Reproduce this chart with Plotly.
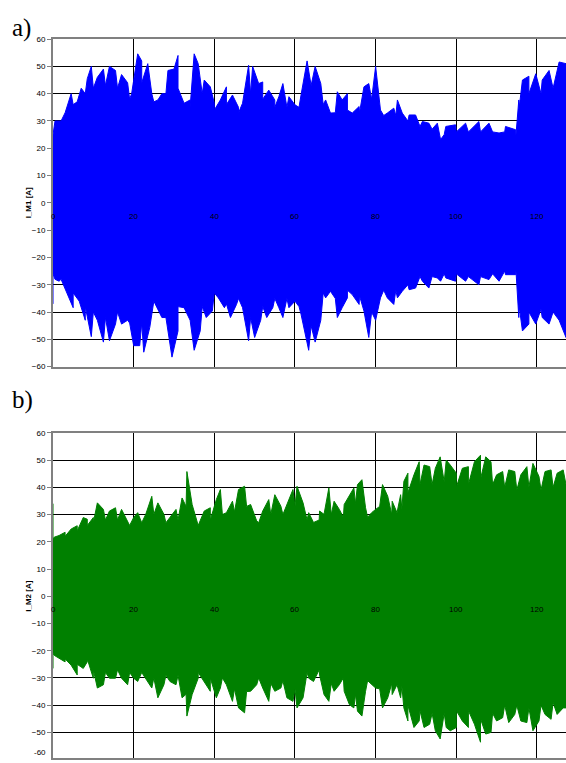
import plotly.graph_objects as go

# ---- Motor current M1 ----
# dense band of the oscillation (upper / lower edge)
m1_band_t = [0, 2, 5, 8, 10, 13, 16, 19, 22, 25, 28, 31, 34, 37, 40, 43, 46, 49, 52, 55, 58, 61,
             64, 67, 70, 73, 76, 79, 82, 85, 88, 91, 94, 97, 100, 103, 106, 109, 112, 114.8, 115.6,
             118, 121, 124, 127.2]
m1_band_up = [25, 30, 36, 40, 42, 43, 42, 38, 44, 37, 40, 42, 35, 40, 34, 36, 33, 40, 38, 35, 35, 35,
              43, 36, 33, 34, 33, 38, 32, 32, 30, 28, 27, 25, 26, 26, 26, 26, 26, 25, 35,
              40, 40, 42, 44]
m1_band_lo = [-26, -28, -33, -38, -40, -42, -40, -44, -44, -36, -42, -38, -43, -38, -33, -37, -35,
              -42, -38, -35, -35, -38, -45, -33, -35, -32, -34, -40, -32, -32, -30, -27, -27, -26,
              -26, -27, -27, -26, -25, -25, -38, -40, -39, -40, -42]
# individual peaks reaching out of the band
m1_up_t = [0, 0.5, 1, 3, 4.5, 6, 7, 8.5, 9.5, 11, 12.5, 14, 15.5, 17, 18.5, 19.5, 21, 22, 23.5,
           24.5, 26, 27, 28.5, 30, 31, 32.5, 34, 35, 36, 37.5, 39, 40, 41.5, 43, 44.5, 46, 47,
           48.5, 49.5, 51, 52, 53.5, 55, 56, 57, 58.5, 60, 61.5, 63, 65, 66.4, 67.6, 68.8, 70.5,
           71.7, 73, 74.2, 75.9, 77.1, 78.3, 80, 81.2, 82.9, 84.5, 85.4, 86.6, 88.3, 89.9, 91.6,
           93.2, 95.3, 96.1, 97.4, 99.8, 102.3, 105.6, 108.1, 110.6, 112.2, 114.7, 115.5, 116.4,
           118, 119.7, 121.3, 123, 125.5, 127.2]
m1_up = [24, 30, 30, 33, 40, 37, 42, 45.5, 50, 46, 49, 50, 48.5, 47, 44, 40, 54.6, 52, 51,
         40, 37.7, 40, 48.5, 49, 54, 36.5, 37.7, 54.6, 51, 45, 42.5, 36.5, 37.7, 42.5, 39.5, 35, 36.5,
         50.4, 50, 43.7, 44.3, 41.3, 37.7, 38.9, 43.7, 38.9, 35.9, 39.5, 52, 50, 43.7, 37.7, 32.9, 40.7,
         37.7, 40, 32.9, 35.3, 42.5, 43.7, 50, 34, 32.9, 34.7, 37.7, 32.9, 32.2, 32.2, 29.8,
         29.2, 29.2, 23.2, 28, 28.6, 29.2, 29.8, 29.2, 25.6, 28, 26.8, 37.7, 45,
         46.4, 47.3, 45, 48.5, 51.6, 51]
m1_lo_t = [0, 0.5, 1.5, 3, 5, 6.5, 8, 9.5, 11, 12.5, 14, 15.5, 17, 18.5, 20, 21.5, 22.5, 24,
           25.5, 27, 28.5, 29.5, 31, 32.5, 34, 35, 36.5, 38, 39.5, 41, 42.5, 44, 45.5, 47, 48.5,
           50, 51.5, 53, 54.5, 56, 57, 58.5, 60, 61.5, 63.4, 65, 66.4, 67.6, 68.8, 70.5, 71.7, 73,
           74.2, 75.9, 77.1, 78.3, 80, 81.2, 82.9, 84.5, 85.4, 86.6, 88.3, 89.9, 91.6, 93.2, 95.3,
           96.1, 97.4, 99.8, 102.3, 105.6, 108.1, 110.6, 112.2, 114.7, 115.5, 116.4, 118, 119.7,
           121.3, 123, 125.5, 127.2]
m1_lo = [-37, -28, -28.7, -31, -38.4, -36, -43, -49, -43, -51, -50.5, -44.4, -44.4, -43, -52.3,
         -52.3, -54.7, -45.6, -37.2, -42, -46.9, -56.5, -46.9, -38.4, -43, -54, -46.9, -42, -39.6,
         -34.8, -38.4, -42, -37.2, -38.4, -50.5, -49.3, -43, -42, -38.4, -38.4, -42, -38.4, -36,
         -40.8, -54, -51, -43, -34.8, -32.4, -42, -38.4, -34.8, -33.6, -37.2, -39.6, -49.3, -43,
         -34.8, -34.8, -37.2, -34.8, -32.4, -31.8, -31.2, -28.7, -31.2, -27.5, -28.7, -27.5,
         -28.7, -28.7, -30, -28.1, -28.7, -26.3, -26.3, -42, -46.9, -44.4, -44.4, -42, -44.4,
         -43, -49.3]

# ---- Motor current M2 ----
m2_band_t = [0, 3, 6, 8.5, 10, 13, 16, 19, 22, 25, 28, 31, 33, 36, 39, 42, 45, 48, 51, 54, 57,
             60, 63, 66, 69, 72, 75, 78, 81, 84, 86.5, 88, 91, 94, 97, 100, 103, 106, 109, 112,
             115, 118, 121, 124, 127.2]
m2_band_up = [21, 22, 24, 26, 27, 28, 28, 26, 27, 30, 27, 28, 33, 26, 28, 30, 31, 33, 27, 30, 30,
              33, 28, 28, 30, 29, 34, 29, 33, 30, 32, 38, 41, 41, 42, 40, 41, 43, 41, 40,
              39, 40, 39, 40, 38]
m2_band_lo = [-21, -23, -25, -23, -27, -28, -27, -28, -28, -30, -29, -29, -36, -28, -30, -30, -34,
              -35, -30, -32, -31, -34, -28, -27, -32, -30, -36, -31, -34, -32, -33, -40, -42, -43,
              -43, -42, -42, -45, -43, -40, -40, -41, -40, -39, -38]
m2_t = [0, 0.3, 1.5, 3, 4.5, 6, 7.5, 8.5, 10, 11, 12.5, 14, 15.5, 17, 18.5, 20, 21, 23, 24.5,
        26, 27.5, 29, 30.5, 32, 33.2, 34.5, 36, 37.5, 39, 40.5, 41.5, 43, 44.5, 46, 47.5, 49,
        50.5, 52, 53.5, 55, 56.5, 58, 59.5, 60.5, 62, 63.4, 64.6, 66.1, 67.2, 68.4, 69.7, 71,
        72.2, 73.5, 74.6, 75.5, 76.6, 77.5, 79, 80, 81.7, 83, 84.1, 85.3, 86.2, 87, 88, 89.5,
        90.8, 92, 93.4, 94.8, 96, 97.5, 98.5, 100, 101.5, 103, 104.5, 106, 107.3, 108.6, 110,
        111.5, 113, 114.5, 116, 117.5, 119, 120.5, 122, 123.5, 125, 126.5, 127.2]
m2_up = [34, 21.7, 22.3, 23.5, 24.7, 25.9, 28.9, 28.3, 28.9, 34.3, 31.9, 31.3, 32.5, 31.9, 27.7,
         28.9, 30.7, 30.1, 36.7, 34.3, 30.1, 28.9, 31.9, 36.1, 45.8, 33.7, 26.5, 31.3, 32.5, 35.5,
         39.2, 30.7, 34.9, 39.2, 40.4, 33.7, 27.7, 31.3, 35.5, 37.3, 33.1, 33.7, 39.2, 40.4, 34.3,
         30.7, 27.1, 31.3, 30.1, 39.8, 34.9, 31.9, 33.7, 37.3, 39.8, 41, 42.8, 32.5, 30.7, 31.9,
         41, 36.7, 34.9, 30.7, 37.3, 42.2, 45.2, 44.6, 49.4, 48.2, 47.6, 47, 51.2, 50, 48.2, 45.2,
         47, 47.6, 49.4, 51.8, 51.2, 49.4, 44.6, 45.8, 46.4, 45.8, 44.6, 47.6, 48.8, 44, 45.8,
         46.4, 45.2, 46.4, 41]
m2_lo = [-26.5, -21.7, -22.9, -24.1, -25.3, -28.9, -26.5, -24.1, -30.1, -33.7, -32.5, -30.1,
         -30.1, -30.1, -32.5, -30.1, -31.3, -30.1, -33.7, -37.3, -32.5, -31.3, -32.5, -37.3, -44,
         -36.1, -30.1, -31.3, -34.9, -37.3, -33.7, -32.5, -38.6, -41, -42.8, -34.9, -32.5, -33.7,
         -38.6, -34.9, -33.7, -37.3, -38.6, -41, -37.3, -30.1, -31.3, -28.9, -36.1, -38.6, -34.9,
         -32.5, -34.9, -39.8, -41, -42.2, -44, -34.9, -32.5, -33.7, -41, -37.3, -36.1, -32.5,
         -37.3, -41, -45.8, -48.2, -45.8, -48.2, -47, -49.4, -52.4, -48.2, -49.4, -48.2, -45.8,
         -48.2, -47, -53.6, -50.6, -50, -45.8, -44.6, -46.4, -43.4, -45.8, -46.4, -49.4, -45.8,
         -43.4, -45.2, -43.4, -41, -41]

x_ticks = [0, 20, 40, 60, 80, 100, 120]
y_ticks = list(range(-60, 61, 10))

FONT = "Liberation Sans"
W, H = 566, 763
L = 53                      # left margin in pixels
PW = W - L                  # plotting width in pixels


def edge(peak_t, peak_v, band_t, band_v):
    """Outline of one side: peaks and band points merged in time order."""
    pts = sorted(list(zip(peak_t, peak_v)) + list(zip(band_t, band_v)), key=lambda p: p[0])
    return [p[0] for p in pts], [p[1] for p in pts]


fig = go.Figure()


def add_signal(band_t, band_up, band_lo, up_t, up, lo_t, lo, color, xa, ya):
    ux, uy = edge(up_t, up, band_t, band_up)
    lx, ly = edge(lo_t, lo, band_t, band_lo)
    fig.add_trace(go.Scatter(
        x=ux + lx[::-1], y=uy + ly[::-1],
        fill="toself", fillcolor=color, mode="lines",
        line=dict(color=color, width=1), xaxis=xa, yaxis=ya, hoverinfo="skip",
    ))


add_signal(m1_band_t, m1_band_up, m1_band_lo, m1_up_t, m1_up, m1_lo_t, m1_lo,
           "#0000ff", "x", "y")
add_signal(m2_band_t, m2_band_up, m2_band_lo, m2_t, m2_up, m2_t, m2_lo,
           "#008000", "x2", "y2")

xcommon = dict(
    range=[0, 127.2], tickvals=x_ticks, showticklabels=False, ticks="",
    showgrid=True, gridcolor="#000000", gridwidth=1, zeroline=False,
    showline=True, linecolor="#808080", linewidth=2, mirror=True,
)
ycommon = dict(
    tickvals=y_ticks, ticks="outside", ticklen=4, tickcolor="#808080", tickwidth=1,
    tickfont=dict(family=FONT, size=8, color="#000000"),
    showgrid=True, gridcolor="#000000", gridwidth=1, zeroline=False,
    showline=True, linecolor="#808080", linewidth=2,
)

top_dom = [(H - 367) / H, (H - 35.5) / H]
bot_dom = [0, (H - 434) / H]

fig.update_layout(
    width=W, height=H,
    margin=dict(l=L, r=0, t=0, b=0),
    paper_bgcolor="white", plot_bgcolor="white",
    showlegend=False,
    xaxis=dict(**xcommon, anchor="y"),
    yaxis=dict(**ycommon, range=[-60, 60], domain=top_dom, anchor="x"),
    xaxis2=dict(**xcommon, anchor="y2"),
    yaxis2=dict(**ycommon, range=[-59.4, 60], domain=bot_dom, anchor="x2"),
)

annotations = []

# x tick labels sit just below the zero line, inside each plot
for xr, yr in (("x", "y"), ("x2", "y2")):
    for t in x_ticks:
        annotations.append(dict(
            x=t, y=0, xref=xr, yref=yr, text=str(t), showarrow=False,
            xanchor="center", yanchor="top", yshift=-7,
            font=dict(family=FONT, size=8, color="#000000"),
        ))

# y axis titles, centred on the zero line of each plot
for txt, yr in (("<b>I_M1 [A]</b>", "y"), ("<b>I_M2 [A]</b>", "y2")):
    annotations.append(dict(
        x=(28.5 - L) / PW, y=0, xref="paper", yref=yr, text=txt, showarrow=False,
        textangle=-90, xanchor="center", yanchor="middle",
        font=dict(family=FONT, size=8, color="#000000"),
    ))

# -60 label of the lower plot, at the page bottom
annotations.append(dict(
    x=0, y=0, xref="paper", yref="paper", text="-60", showarrow=False,
    xanchor="right", yanchor="bottom", xshift=-5, yshift=-1,
    font=dict(family=FONT, size=8, color="#000000"),
))

# panel letters
for txt, yp in (("a)", 24), ("b)", 401)):
    annotations.append(dict(
        x=(10 - L) / PW, y=1 - yp / H, xref="paper", yref="paper",
        text=txt, showarrow=False, xanchor="left", yanchor="middle",
        font=dict(family="Liberation Serif", size=25, color="#000000"),
    ))

fig.update_layout(annotations=annotations)

fig.write_html("out.html")
